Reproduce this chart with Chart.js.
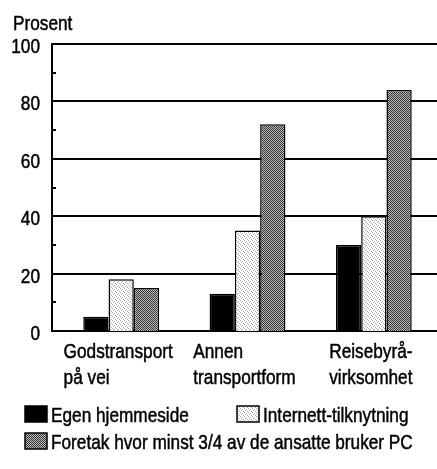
<!DOCTYPE html>
<html>
<head>
<meta charset="utf-8">
<script src="https://cdn.jsdelivr.net/npm/chart.js@4/dist/chart.umd.min.js"></script>
<style>
  html, body { margin: 0; padding: 0; background: #fff; }
  #wrap { width: 437px; height: 469px; }
</style>
</head>
<body>
<div id="wrap"><canvas id="chart" width="437" height="469"></canvas></div>
<script>
// data
const categories = [['Godstransport', 'på vei'], ['Annen', 'transportform'], ['Reisebyrå-', 'virksomhet']];
const seriesNames = ['Egen hjemmeside', 'Internett-tilknytning', 'Foretak hvor minst 3/4 av de ansatte bruker PC'];
const egenHjemmeside = [5, 13, 30];
const internett = [18, 35, 40];
const foretakPC = [15, 72, 84];
const yTicks = [0, 20, 40, 60, 80, 100];
const yMinorTicks = [10, 30, 50, 70, 90];
const yTitle = 'Prosent';

// no narrow Helvetica installed, so squeeze Liberation Sans sideways
const FONT = "21px 'Liberation Sans', Arial, sans-serif";
const SQUEEZE = 0.82;
const AXIS_X = 51;

function narrowText(ctx, text, x, y, align) {
    ctx.save();
    ctx.translate(x, y);
    ctx.scale(SQUEEZE, 1);
    ctx.textAlign = align || 'left';
    // thin stroke to mimic the heavier printed type
    ctx.lineWidth = 0.5;
    ctx.strokeStyle = '#000';
    ctx.strokeText(text, 0, 0);
    ctx.fillText(text, 0, 0);
    ctx.restore();
}

// fill patterns like the printed screens
function makePattern(size, bg, fg, cells) {
    const c = document.createElement('canvas');
    c.width = size; c.height = size;
    const g = c.getContext('2d');
    g.fillStyle = bg;
    g.fillRect(0, 0, size, size);
    g.fillStyle = fg;
    cells.forEach(p => g.fillRect(p[0], p[1], 1, 1));
    return g.createPattern(c, 'repeat');
}
const lightDots = makePattern(4, '#ffffff', '#a8a8a8', [[0, 0], [2, 1], [1, 2], [3, 3]]);
const darkCheck = makePattern(2, '#bdbdbd', '#333333', [[0, 0], [1, 1]]);
const fills = ['#000000', lightDots, darkCheck];

const decorations = {
    id: 'decorations',
    beforeDatasetsDraw(chart) {
        const ctx = chart.ctx;
        const y = chart.scales.y;
        const area = chart.chartArea;
        ctx.save();
        ctx.strokeStyle = '#000';
        ctx.lineWidth = 2;
        yTicks.forEach(v => {
            const py = Math.round(y.getPixelForValue(v));
            ctx.beginPath();
            ctx.moveTo(AXIS_X, py);
            ctx.lineTo(area.right, py);
            ctx.stroke();
        });
        yMinorTicks.forEach(v => {
            const py = Math.round(y.getPixelForValue(v));
            ctx.beginPath();
            ctx.moveTo(AXIS_X, py);
            ctx.lineTo(AXIS_X + 5, py);
            ctx.stroke();
        });
        ctx.beginPath();
        ctx.moveTo(AXIS_X + 1, y.getPixelForValue(100) - 1);
        ctx.lineTo(AXIS_X + 1, y.getPixelForValue(0) + 1);
        ctx.stroke();
        ctx.restore();
    },
    afterDraw(chart) {
        const ctx = chart.ctx;
        const x = chart.scales.x;
        const y = chart.scales.y;
        ctx.save();
        ctx.fillStyle = '#000';
        ctx.font = FONT;
        ctx.textBaseline = 'alphabetic';

        narrowText(ctx, yTitle, 13, 30);

        // y tick labels
        yTicks.forEach(v => {
            narrowText(ctx, String(v), 40, y.getPixelForValue(v) + 9, 'right');
        });

        // category labels: block centred under the group, lines left aligned
        categories.forEach((lines, i) => {
            const cx = x.getPixelForValue(i);
            const w = Math.max(...lines.map(l => ctx.measureText(l).width)) * SQUEEZE;
            lines.forEach((l, j) => narrowText(ctx, l, cx - w / 2 - 3, 358 + j * 26));
        });

        // legend
        const items = [
            { x: 25, y: 406, text: seriesNames[0] },
            { x: 237, y: 406, text: seriesNames[1] },
            { x: 25, y: 433, text: seriesNames[2] }
        ];
        items.forEach((it, i) => {
            ctx.fillStyle = fills[i];
            ctx.fillRect(it.x, it.y, 22, 16);
            ctx.strokeStyle = '#000';
            ctx.lineWidth = 1.5;
            ctx.strokeRect(it.x, it.y, 22, 16);
            ctx.fillStyle = '#000';
            narrowText(ctx, it.text, it.x + 26, it.y + 16);
        });
        ctx.restore();
    }
};

new Chart(document.getElementById('chart'), {
    type: 'bar',
    data: {
        labels: categories,
        datasets: [
            { label: seriesNames[0], data: egenHjemmeside, backgroundColor: fills[0], borderColor: '#000', borderWidth: 1.5 },
            { label: seriesNames[1], data: internett, backgroundColor: fills[1], borderColor: '#000', borderWidth: 1.5 },
            { label: seriesNames[2], data: foretakPC, backgroundColor: fills[2], borderColor: '#000', borderWidth: 1.5 }
        ]
    },
    options: {
        responsive: false,
        animation: false,
        events: [],
        layout: { padding: { top: 44, bottom: 138, right: 0, left: 0 } },
        datasets: { bar: { categoryPercentage: 0.6, barPercentage: 1.0 } },
        plugins: { legend: { display: false }, tooltip: { enabled: false } },
        scales: {
            x: {
                ticks: { display: false },
                grid: { display: false, drawTicks: false },
                border: { display: false }
            },
            y: {
                min: 0,
                max: 100,
                afterFit(scale) { scale.width = 58; },
                ticks: { display: false, stepSize: 20 },
                grid: { display: false, drawTicks: false },
                border: { display: false }
            }
        }
    },
    plugins: [decorations]
});
</script>
</body>
</html>
